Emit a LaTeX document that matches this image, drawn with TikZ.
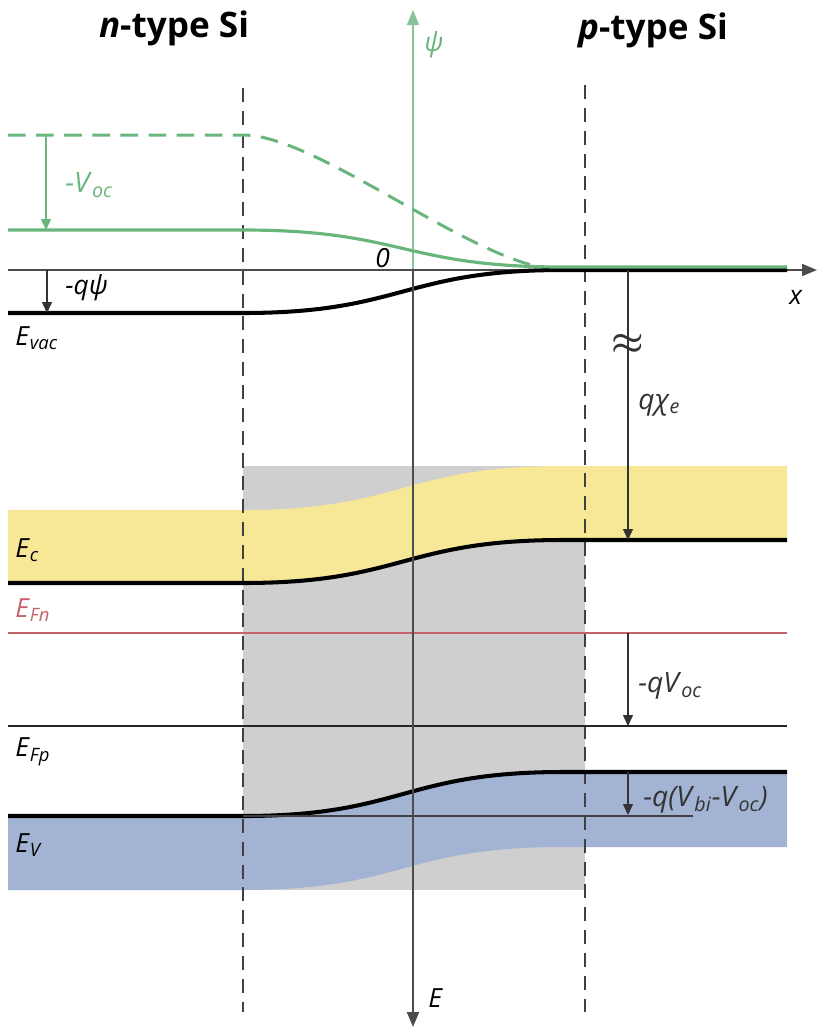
\documentclass[tikz,border=0pt]{standalone}
\usepackage{fontspec}
\setmainfont{Open Sans}
\usetikzlibrary{arrows.meta}
\definecolor{psigreen}{RGB}{105,182,125}
\definecolor{axisgreen}{RGB}{135,195,150}
\definecolor{condyellow}{RGB}{246,232,150}
\definecolor{valblue}{RGB}{163,179,212}
\definecolor{deplgray}{RGB}{207,207,207}
\definecolor{fermired}{RGB}{198,98,108}
\newcommand{\elbl}[2]{\textit{#1}\textsubscript{\textit{#2}}}
\tikzset{
  bandedge/.style={line width=2.3pt, black},
  levelline/.style={line width=1.1pt},
  junctionline/.style={dash pattern=on 8pt off 5pt, line width=0.8pt, black!75},
  axisline/.style={line width=1.1pt, -{Triangle[length=3mm,width=2.4mm]}},
  gaparrow/.style={line width=0.8pt, black!80, -{Triangle[length=2.2mm,width=2mm]}},
  bandlabel/.style={font=\fontsize{15}{18}\selectfont, anchor=west, inner sep=0pt},
  gaplabel/.style={font=\fontsize{16}{19}\selectfont, anchor=west, inner sep=0pt, black!80},
  regionlabel/.style={font=\fontsize{20}{24}\selectfont\bfseries}
}

\begin{document}
\begin{tikzpicture}[x=0.02cm, y=-0.02cm]
\useasboundingbox (0,0) rectangle (817,1029);

% depletion region and bands
\fill[deplgray] (243,466) rectangle (585,890);
\fill[condyellow] (8,510) -- (243,510) .. controls (403,510) and (403,466) .. (563,466) -- (787,466)
  -- (787,540) -- (563,540) .. controls (403,540) and (403,583) .. (243,583) -- (8,583) -- cycle;
\fill[valblue] (8,817) -- (243,817) .. controls (403,817) and (403,772) .. (563,772) -- (787,772)
  -- (787,847) -- (563,847) .. controls (403,847) and (403,890) .. (243,890) -- (8,890) -- cycle;

% junction edges
\draw[junctionline] (243,88) -- (243,1012);
\draw[junctionline] (585,85) -- (585,1012);

% axes
\coordinate (origin) at (413,270);
\coordinate (psitop) at (413,10);
\coordinate (Ebottom) at (413,1027);
\coordinate (xleft) at (8,270);
\coordinate (xright) at (817,270);
\draw[axisline, axisgreen] (origin) -- (psitop);
\draw[axisline, black!70] (xleft) -- (xright);

% potential profiles
\draw[psigreen, line width=1.7pt, dash pattern=on 10pt off 6pt]
  (8,135) -- (243,135) .. controls (320,135) and (480,270) .. (563,270);
\draw[bandedge] (8,313) -- (243,313) .. controls (403,313) and (403,270) .. (563,270) -- (787,270);
\draw[psigreen, line width=1.8pt]
  (8,230) -- (243,230) .. controls (403,230) and (403,267) .. (563,267) -- (787,267);

% band edges and quasi-Fermi levels
\draw[bandedge] (8,583) -- (243,583) .. controls (403,583) and (403,540) .. (563,540) -- (787,540);
\draw[bandedge] (8,816) -- (243,816) .. controls (403,816) and (403,772) .. (563,772) -- (787,772);
\draw[levelline, fermired] (8,633) -- (787,633);
\draw[levelline, black!85] (8,726) -- (787,726);
\draw[line width=0.8pt, black!75] (243,816) -- (693,816);

\draw[axisline, black!70] (origin) -- (Ebottom);

% gap arrows
\coordinate (voctop) at (46,135);
\coordinate (vocbot) at (46,230);
\coordinate (qpsitop) at (47,270);
\coordinate (qpsibot) at (47,313);
\coordinate (chitop) at (628,270);
\coordinate (chibot) at (628,540);
\coordinate (qvoctop) at (628,633);
\coordinate (qvocbot) at (628,726);
\coordinate (vbitop) at (628,772);
\coordinate (vbibot) at (628,815);
\draw[gaparrow, psigreen] (voctop) -- (vocbot);
\draw[gaparrow] (qpsitop) -- (qpsibot);
\draw[gaparrow] (chitop) -- (chibot);
\draw[gaparrow] (qvoctop) -- (qvocbot);
\draw[gaparrow] (vbitop) -- (vbibot);
\node[font=\huge\boldmath, black!80, inner sep=0pt] (chibreak) at (628,344) {$\approx$};

% labels
\node[regionlabel] (nside) at (174,28) {\textit{n}-type Si};
\node[regionlabel] (pside) at (653,30) {\textit{p}-type Si};
\node[bandlabel, psigreen] (psilbl) at (424,45) {\textit{ψ}};
\node[bandlabel] (zerolbl) at (375,258) {\textit{0}};
\node[bandlabel] (xlbl) at (789,297) {\textit{x}};
\node[bandlabel, anchor=west] (Elbl) at (428,998) {\textit{E}};
\node[gaplabel, psigreen] (voclbl) at (65,185) {\elbl{-V}{oc}};
\node[bandlabel] (qpsilbl) at (65,288) {\textit{-qψ}};
\node[bandlabel] (evaclbl) at (15,338) {\elbl{E}{vac}};
\node[bandlabel] (eclbl) at (15,550) {\elbl{E}{c}};
\node[bandlabel, fermired] (efnlbl) at (15,610) {\elbl{E}{Fn}};
\node[bandlabel] (efplbl) at (15,752) {\elbl{E}{Fp}};
\node[bandlabel] (evlbl) at (15,845) {\elbl{E}{V}};
\node[gaplabel] (chilbl) at (638,405) {\elbl{qχ}{e}};
\node[gaplabel] (qvoclbl) at (638,686) {\elbl{-qV}{oc}};
\node[gaplabel] (vbilbl) at (643,800) {\textit{-q(V}\textsubscript{\textit{bi}}\textit{-V}\textsubscript{\textit{oc}}\textit{)}};
\end{tikzpicture}
\end{document}
